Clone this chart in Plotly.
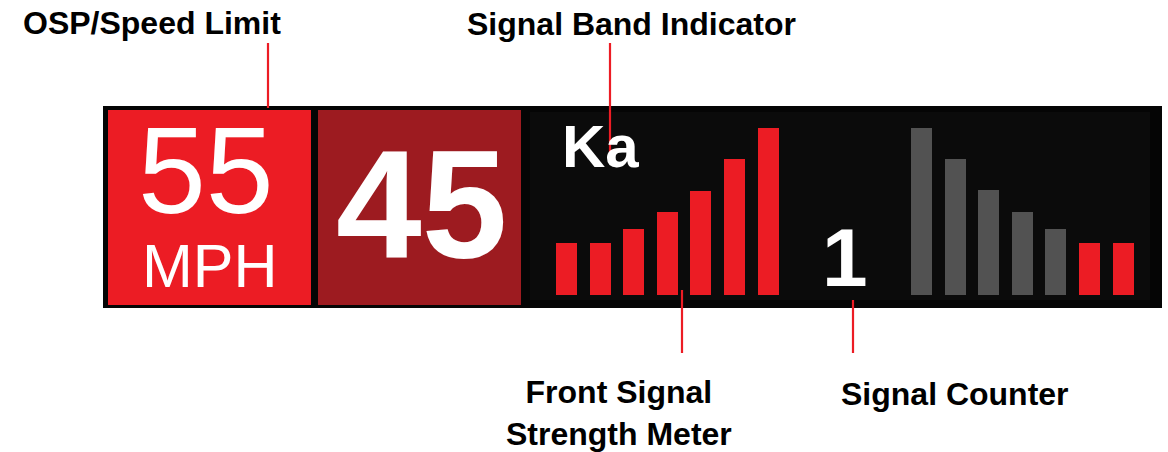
import plotly.graph_objects as go

# ---------------- data ----------------
speed_limit = "55"
speed_unit = "MPH"
current_speed = "45"
signal_band = "Ka"
signal_count = "1"

front_segments = [1, 2, 3, 4, 5, 6, 7]
front_strength = [52, 52, 66, 83, 104, 136, 167]
front_colors = ["#ec1c24"] * 7

rear_segments = [1, 2, 3, 4, 5, 6, 7]
rear_strength = [167, 136, 105, 83, 66, 52, 52]
rear_colors = ["#525252"] * 5 + ["#ec1c24"] * 2

labels = ["OSP/Speed Limit", "Signal Band Indicator",
          "Front Signal<br>Strength Meter", "Signal Counter"]

# ---------------- layout helpers (window pixels, y measured from top) ----------------
W, H = 1168, 452
def Y(p):
    return H - p

BAR_BOTTOM = 295
SEG_STEP = 33.6
front_x = [566.5 + SEG_STEP * (s - 1) for s in front_segments]
rear_x = [921.5 + SEG_STEP * (s - 1) for s in rear_segments]

fig = go.Figure()
fig.add_trace(go.Bar(x=front_x, y=front_strength, base=Y(BAR_BOTTOM), width=21,
                     marker=dict(color=front_colors, line=dict(width=0)),
                     hoverinfo="skip"))
fig.add_trace(go.Bar(x=rear_x, y=rear_strength, base=Y(BAR_BOTTOM), width=21,
                     marker=dict(color=rear_colors, line=dict(width=0)),
                     hoverinfo="skip"))

shapes = []
# black display panel
shapes.append(dict(type="rect", x0=103, x1=1162, y0=Y(308), y1=Y(106),
                   fillcolor="#050505", line=dict(width=0), layer="below"))
shapes.append(dict(type="rect", x0=530, x1=1150, y0=Y(300), y1=Y(112),
                   fillcolor="#0b0b0b", line=dict(width=0), layer="below"))
# speed limit box
shapes.append(dict(type="rect", x0=108, x1=311, y0=Y(305), y1=Y(110),
                   fillcolor="#ec1c24", line=dict(width=0), layer="below"))
# current speed box
shapes.append(dict(type="rect", x0=318, x1=521, y0=Y(305), y1=Y(110),
                   fillcolor="#9d1b20", line=dict(width=0), layer="below"))

# leader lines
RED = "#ec1c24"
for x, p0, p1 in [(268, 43, 108), (610, 43, 153), (682, 290, 353), (853, 300, 353)]:
    shapes.append(dict(type="line", x0=x, x1=x, y0=Y(p0), y1=Y(p1),
                       line=dict(color=RED, width=2.2), layer="above"))

ann = []
SANS = "Liberation Sans, Arial, Helvetica, sans-serif"
def text(t, x, p, size, color, bold=False, xanchor="center"):
    ann.append(dict(text=(f"<b>{t}</b>" if bold else t), x=x, y=Y(p), xref="x", yref="y",
                    xanchor=xanchor, yanchor="middle", showarrow=False,
                    font=dict(family=SANS, size=size, color=color)))

text(speed_limit, 206, 171, 122, "white")
text(speed_unit, 210, 266, 61, "white")
text(current_speed, 421, 205, 154, "white", bold=True)
text(signal_band, 560, 146, 60, "white", bold=True, xanchor="left")
text(signal_count, 845, 257, 82, "white", bold=True)

text(labels[0], 21, 22.5, 32, "black", bold=True, xanchor="left")
text(labels[1], 465, 24, 32, "black", bold=True, xanchor="left")
text(labels[2], 504, 413, 32, "black", bold=True, xanchor="left")
text(labels[3], 839, 394, 32, "black", bold=True, xanchor="left")

fig.update_layout(
    width=W, height=H, margin=dict(l=0, r=0, t=0, b=0),
    paper_bgcolor="white", plot_bgcolor="white",
    showlegend=False, barmode="overlay", bargap=0,
    xaxis=dict(range=[0, W], visible=False, fixedrange=True),
    yaxis=dict(range=[0, H], visible=False, fixedrange=True),
    shapes=shapes, annotations=ann,
)
fig.write_html("out.html", config={"displayModeBar": False},
               post_script="document.body.style.margin='0';document.body.style.overflow='hidden';")
